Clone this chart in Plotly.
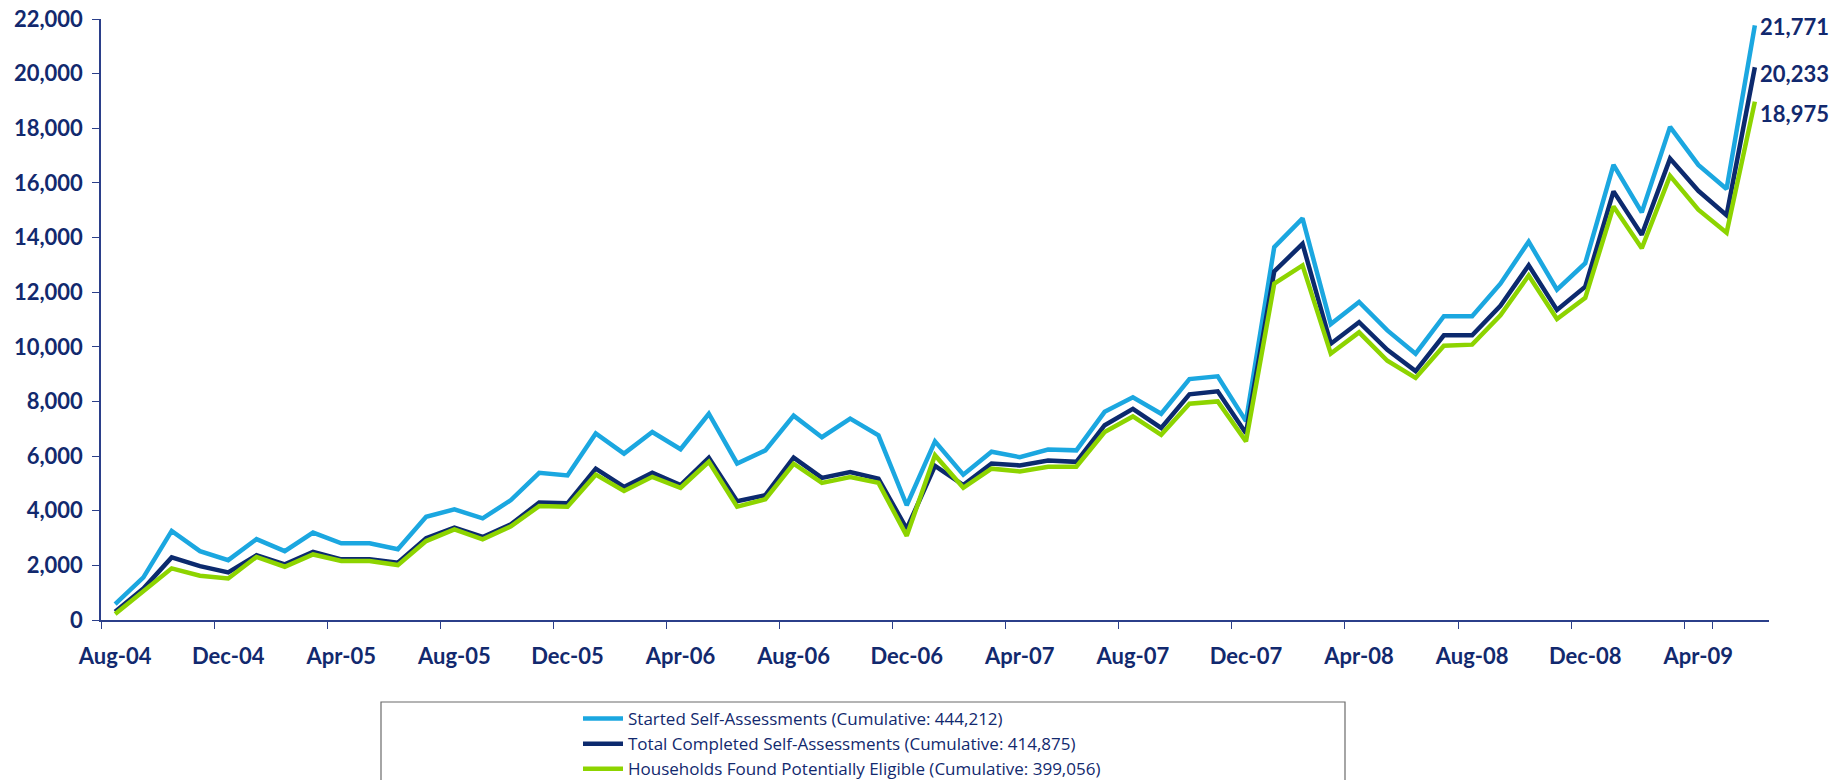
import plotly.graph_objects as go

months = ["Aug-04", "Sep-04", "Oct-04", "Nov-04", "Dec-04",
          "Jan-05", "Feb-05", "Mar-05", "Apr-05", "May-05", "Jun-05", "Jul-05", "Aug-05", "Sep-05", "Oct-05", "Nov-05", "Dec-05",
          "Jan-06", "Feb-06", "Mar-06", "Apr-06", "May-06", "Jun-06", "Jul-06", "Aug-06", "Sep-06", "Oct-06", "Nov-06", "Dec-06",
          "Jan-07", "Feb-07", "Mar-07", "Apr-07", "May-07", "Jun-07", "Jul-07", "Aug-07", "Sep-07", "Oct-07", "Nov-07", "Dec-07",
          "Jan-08", "Feb-08", "Mar-08", "Apr-08", "May-08", "Jun-08", "Jul-08", "Aug-08", "Sep-08", "Oct-08", "Nov-08", "Dec-08",
          "Jan-09", "Feb-09", "Mar-09", "Apr-09", "May-09", "Jun-09"]

started = [580, 1560, 3260, 2520, 2190, 2960, 2520, 3200, 2810, 2810, 2590, 3780, 4050, 3720, 4390,
           5390, 5290, 6830, 6090, 6880, 6250, 7550, 5730, 6210, 7480, 6690, 7370, 6760, 4200, 6540,
           5320, 6160, 5960, 6240, 6210, 7620, 8150, 7550, 8820, 8920, 7280, 13650, 14700, 10830, 11640,
           10600, 9750, 11120, 11120, 12310, 13850, 12090, 13060, 16660, 14920, 18050, 16660, 15780, 21771]

completed = [300, 1150, 2290, 1970, 1740, 2370, 2040, 2490, 2220, 2220, 2100, 2990, 3380, 3040, 3500,
             4300, 4270, 5540, 4870, 5390, 4940, 5940, 4350, 4570, 5940, 5200, 5420, 5170, 3340, 5640,
             4940, 5730, 5660, 5840, 5790, 7130, 7730, 7030, 8260, 8370, 6840, 12760, 13770, 10110, 10900,
             9890, 9110, 10420, 10420, 11500, 12980, 11350, 12200, 15690, 14100, 16890, 15710, 14820, 20233]

eligible = [220, 1040, 1890, 1620, 1520, 2310, 1950, 2400, 2160, 2160, 2010, 2890, 3320, 2950, 3430,
            4170, 4150, 5320, 4720, 5240, 4840, 5790, 4150, 4420, 5720, 5020, 5230, 5020, 3080, 6030,
            4840, 5540, 5440, 5610, 5610, 6880, 7450, 6780, 7920, 8000, 6540, 12310, 12980, 9750, 10530,
            9490, 8860, 10040, 10080, 11150, 12610, 11020, 11790, 15140, 13610, 16260, 15020, 14180, 18975]

series_names = ["Started Self-Assessments (Cumulative: 444,212)",
                "Total Completed Self-Assessments (Cumulative: 414,875)",
                "Households Found Potentially Eligible (Cumulative: 399,056)"]
end_labels = ["21,771", "20,233", "18,975"]

tick_labels = ["Aug-04", "Dec-04", "Apr-05", "Aug-05", "Dec-05", "Apr-06", "Aug-06", "Dec-06",
               "Apr-07", "Aug-07", "Dec-07", "Apr-08", "Aug-08", "Dec-08", "Apr-09"]

colors = ["#1BA7E0", "#0C2A6E", "#8DD400"]
navy = "#12296E"
axis_col = "#2B3F8A"
W, H = 1833, 780
ML, MR, MT, MB = 101, 64, 19, 160
bold_font = dict(family="Lato, Liberation Sans, sans-serif", size=22, color=navy, weight="bold")

fig = go.Figure()
for name, vals, col in zip(series_names, [started, completed, eligible], colors):
    fig.add_trace(go.Scatter(x=months, y=vals, mode="lines", name=name,
                             line=dict(color=col, width=4.5), cliponaxis=False))

yshifts = [-1, -6, -12]
for lab, vals, ys in zip(end_labels, [started, completed, eligible], yshifts):
    fig.add_annotation(x=months[-1], y=vals[-1], text="<b>" + lab + "</b>", showarrow=False,
                       xanchor="left", yanchor="middle", xshift=3, yshift=ys,
                       font=bold_font)

# legend frame
fig.add_shape(type="rect", xref="paper", yref="paper",
              x0=(381 - ML) / (W - ML - MR), x1=(1345 - ML) / (W - ML - MR),
              y0=(H - MB - 795) / (H - MT - MB), y1=(H - MB - 702) / (H - MT - MB),
              line=dict(color="#6B6B6B", width=1.2), fillcolor="rgba(0,0,0,0)", layer="above")

fig.update_layout(
    width=W, height=H,
    margin=dict(l=ML, r=MR, t=MT, b=MB, autoexpand=False),
    paper_bgcolor="white", plot_bgcolor="white",
    showlegend=True,
    legend=dict(xref="container", yref="container", x=578 / W, y=1 - 701 / H,
                xanchor="left", yanchor="top", bgcolor="rgba(0,0,0,0)",
                font=dict(family="Open Sans, Liberation Sans, sans-serif", size=17, color=navy),
                tracegroupgap=0, itemwidth=40),
    font=dict(family="Lato, Liberation Sans, sans-serif", color=navy),
)
fig.update_xaxes(type="category", categoryorder="array", categoryarray=months,
                 tickmode="array", tickvals=tick_labels, ticktext=tick_labels, tickangle=0,
                 tickson="boundaries", ticks="outside", ticklen=7, tickcolor=axis_col,
                 showline=True, linecolor=axis_col, linewidth=1.5, showgrid=False, zeroline=False,
                 tickfont=bold_font, ticklabelstandoff=16, range=[-0.5, len(months) - 0.5])
fig.update_yaxes(range=[0, 22000], dtick=2000, tickformat=",", ticks="outside", ticklen=7,
                 tickcolor=axis_col, showline=True, linecolor=axis_col, linewidth=1.5,
                 showgrid=False, zeroline=False, ticklabelstandoff=5, tickfont=bold_font)

fig.write_html("out.html", config={"displayModeBar": False},
               post_script="document.body.style.margin='0';")
